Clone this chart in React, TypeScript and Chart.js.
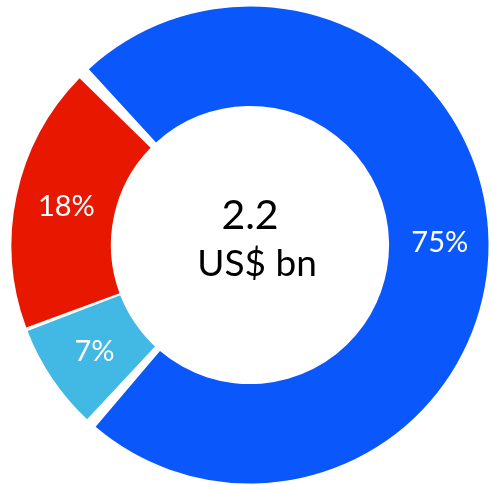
import React, { useEffect, useRef } from "react";
import { Chart, registerables } from "chart.js";

Chart.register(...registerables);

const categories = ["Blue segment", "Light blue segment", "Red segment"];
const values = [74.4, 7.3, 18.3];
const valueLabels = ["75%", "7%", "18%"];
const colors = ["#0A57FC", "#42B8E4", "#E81800"];
const centerLines = ["2.2", "US$ bn"];

const labelPlugin = {
  id: "sliceLabels",
  afterDatasetsDraw(chart: any) {
    const ctx = chart.ctx;
    const meta = chart.getDatasetMeta(0);
    ctx.save();
    ctx.fillStyle = "#ffffff";
    ctx.font = "29px Lato";
    ctx.textAlign = "center";
    ctx.textBaseline = "middle";
    meta.data.forEach((el: any, i: number) => {
      const p = el.tooltipPosition();
      ctx.fillText(valueLabels[i], p.x + 1, p.y + 1);
    });
    // centre text
    const first = meta.data[0];
    const cx = first.x;
    const cy = first.y;
    ctx.fillStyle = "#000000";
    ctx.textBaseline = "alphabetic";
    ctx.font = "41px Lato";
    ctx.fillText(centerLines[0], cx, cy - 16);
    ctx.font = "37px Lato";
    ctx.fillText(centerLines[1], cx + 7, cy + 31);
    ctx.restore();
  },
};

export default function App() {
  const ref = useRef<HTMLCanvasElement | null>(null);
  useEffect(() => {
    if (!ref.current) return;
    const chart = new Chart(ref.current, {
      type: "doughnut",
      data: {
        labels: categories,
        datasets: [
          {
            data: values,
            backgroundColor: colors,
            borderWidth: 0,
            spacing: 7,
          } as any,
        ],
      },
      options: {
        responsive: false,
        animation: false,
        rotation: -45,
        cutout: "57.7%",
        layout: { padding: { left: 11.5, right: 2.5, top: 6.5, bottom: 1.5 } },
        plugins: {
          legend: { display: false },
          tooltip: { enabled: false },
        },
      },
      plugins: [labelPlugin],
    });
    return () => chart.destroy();
  }, []);
  return (
    <div style={{ position: "absolute", left: 0, top: 0, width: 491, height: 485, background: "#fff" }}>
      <canvas ref={ref} width={491} height={485} style={{ display: "block" }} />
    </div>
  );
}
